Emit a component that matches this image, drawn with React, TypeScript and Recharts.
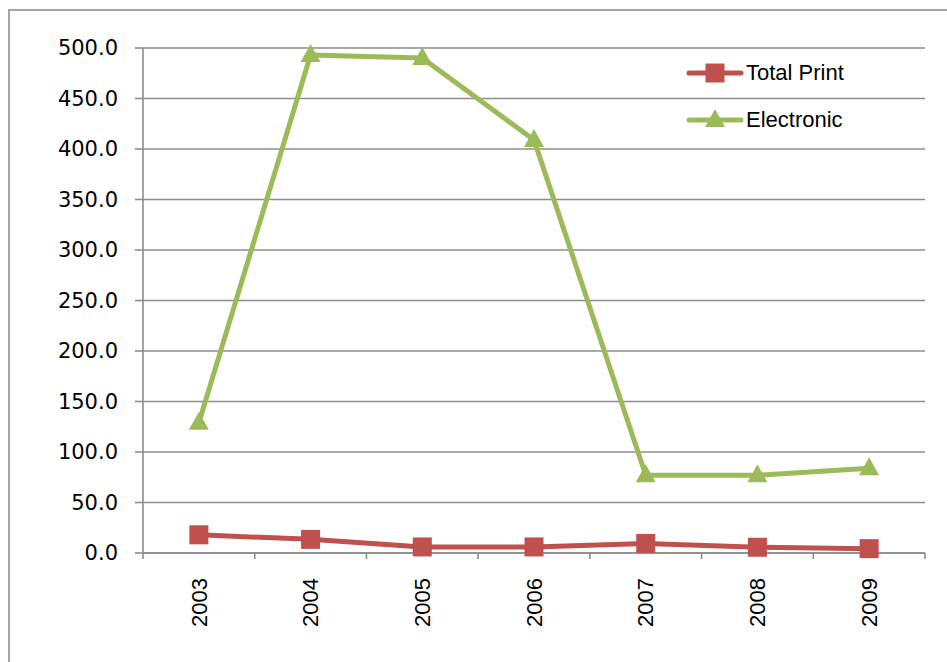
import React from 'react';
import {CartesianGrid, Line, LineChart, XAxis, YAxis} from 'recharts';

const years = ['2003', '2004', '2005', '2006', '2007', '2008', '2009'];
const totalPrint = [18, 13.5, 6, 6, 9.5, 5.7, 4.3];
const electronic = [129, 493, 490, 409, 77, 77, 84];
const yTicks = [0, 50, 100, 150, 200, 250, 300, 350, 400, 450, 500];
const bandEdges = [0, 1, 2, 3, 4, 5, 6, 7];

const data = years.map((year, i) => ({
    year,
    slot: i,
    totalPrint: totalPrint[i],
    electronic: electronic[i]
}));

const GRID = '#8c8c8c';
const RED = '#c0504d';
const GREEN = '#9bbb59';

const series = [
    {key: 'totalPrint', name: 'Total Print', color: RED, marker: 'square'},
    {key: 'electronic', name: 'Electronic', color: GREEN, marker: 'triangle'}
];

const Marker = ({cx, cy, color, marker}: any) => {
    if (cx == null || cy == null) return null;
    if (marker === 'square') {
        return <rect x={cx - 9.5} y={cy - 9.5} width={19} height={19} fill={color}/>;
    }
    return <polygon points={`${cx},${cy - 11} ${cx + 10},${cy + 7} ${cx - 10},${cy + 7}`} fill={color}/>;
};

const YearTick = ({x, y, payload}: any) => (
    <text x={0} y={0} dy="0.35em" textAnchor="end"
          transform={`translate(${x},${y + 19}) rotate(-90)`}
          fontFamily="'Liberation Sans', Arial, sans-serif" fontSize={22} fill="#000">
        {payload.value}
    </text>
);

// legend sits inside the plot, top right
const LegendBox = () => (
    <div style={{
        position: 'absolute', left: 686, top: 60,
        display: 'flex', flexDirection: 'column', gap: 21
    }}>
        {series.map(s => (
            <div key={s.key} style={{display: 'flex', alignItems: 'center', height: 26}}>
                <svg width={60} height={24}>
                    <line x1={3} y1={12} x2={55} y2={12} stroke={s.color} strokeWidth={5} strokeLinecap="round"/>
                    <Marker cx={29} cy={12} color={s.color} marker={s.marker}/>
                </svg>
                <span style={{
                    fontFamily: "'Liberation Sans', Arial, sans-serif",
                    fontSize: 22,
                    lineHeight: '26px',
                    color: '#000'
                }}>{s.name}</span>
            </div>
        ))}
    </div>
);

const App: React.FC = () => (
    <div style={{position: 'relative', width: 947, height: 662, overflow: 'hidden', background: '#fff'}}>
        <style>{'body{margin:0;overflow:hidden}'}</style>
        <div style={{
            position: 'absolute', left: 8, top: 9, width: 939, height: 653,
            borderTop: '2px solid #a5a5a5', borderLeft: '2px solid #a5a5a5', boxSizing: 'border-box'
        }}/>
        <div style={{position: 'absolute', left: 0, top: 0}}>
            <LineChart width={947} height={662} data={data}
                       margin={{top: 48, right: 22, left: 0, bottom: 0}}>
                <CartesianGrid xAxisId="years" vertical={false} stroke={GRID} strokeWidth={1.6}/>
                {/* tick marks between the year bands */}
                <XAxis xAxisId="edges" dataKey="slot" type="number" domain={[0, 7]} allowDataOverflow
                       ticks={bandEdges} interval={0} tickFormatter={() => ''} tickSize={6} height={6}
                       stroke={GRID} strokeWidth={1.6}/>
                <XAxis xAxisId="years" dataKey="year" scale="band" height={103} tickLine={false}
                       axisLine={false} tickSize={0} tickMargin={0} interval={0} tick={<YearTick/>}/>
                <YAxis domain={[0, 500]} ticks={yTicks} width={143} tickSize={8} tickMargin={17}
                       stroke={GRID} strokeWidth={1.6} interval={0}
                       tickFormatter={(v: number) => v.toFixed(1)}
                       tick={{fill: '#000', fontSize: 21, fontFamily: "'DejaVu Sans', Verdana, sans-serif"}}/>
                {series.map(s => (
                    <Line key={s.key} xAxisId="years" dataKey={s.key} name={s.name}
                          stroke={s.color} strokeWidth={5} strokeLinejoin="round"
                          isAnimationActive={false}
                          dot={(p: any) => <Marker key={`${s.key}-${p.index}`} cx={p.cx} cy={p.cy}
                                                   color={s.color} marker={s.marker}/>}
                          activeDot={false}/>
                ))}
            </LineChart>
        </div>
        <LegendBox/>
    </div>
);

export default App;
